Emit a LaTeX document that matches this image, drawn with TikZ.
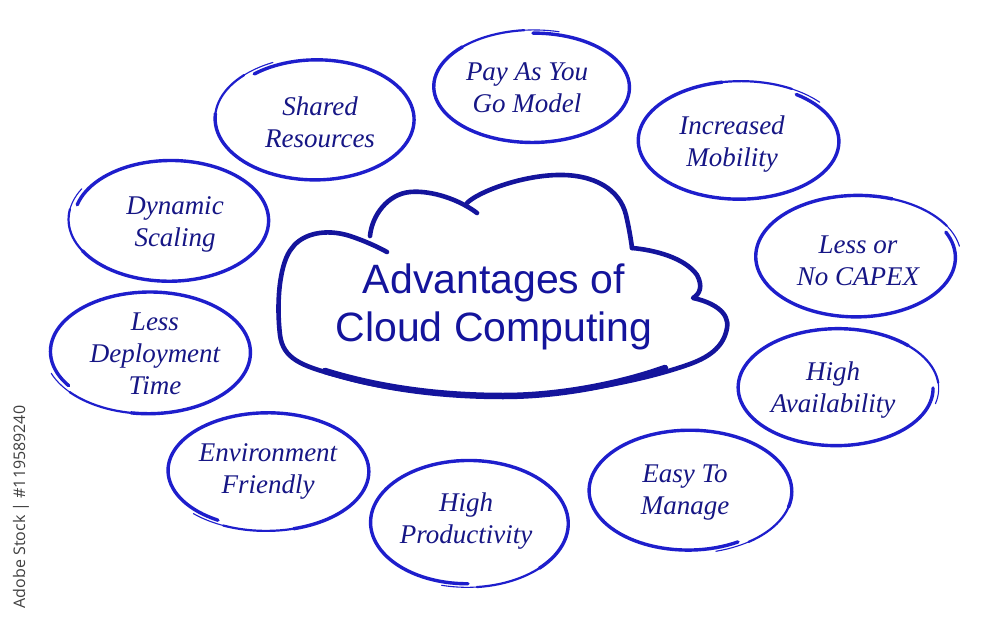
\documentclass[tikz,border=0pt]{standalone}
\usepackage{fontspec}
\setmainfont{Liberation Serif}
\newfontfamily\cloudfont{Liberation Sans}
\newfontfamily\wmfont{Open Sans}
\definecolor{ellblue}{HTML}{1E1ECC}
\definecolor{txtblue}{HTML}{161685}
\definecolor{cloudblue}{HTML}{14149C}
\tikzset{
  ellstroke/.style={draw=ellblue, line cap=round, line join=round},
  lbl/.style={text=txtblue, font=\itshape\fontsize{27}{32}\selectfont, align=center, inner sep=0pt},
  cloudline/.style={draw=cloudblue, line cap=round, line join=round, line width=4.6pt},
}
% #1 cx, #2 cy, #3 rx, #4 ry, #5 start angle
\newcommand{\handell}[5]{%
  \draw[ellstroke, line width=1.1pt] plot[domain=#5:#5+22, samples=8]
    ({#1+#3*(1.04-0.06*(\x-#5)/375)*cos(\x)}, {#2-#4*(1.04-0.06*(\x-#5)/375)*sin(\x)});
  \draw[ellstroke, line width=2.2pt] plot[domain=#5+20:#5+62, samples=14]
    ({#1+#3*(1.04-0.06*(\x-#5)/375)*cos(\x)}, {#2-#4*(1.04-0.06*(\x-#5)/375)*sin(\x)});
  \draw[ellstroke, line width=3.4pt] plot[domain=#5+60:#5+375, samples=90]
    ({#1+#3*(1.04-0.06*(\x-#5)/375)*cos(\x)}, {#2-#4*(1.04-0.06*(\x-#5)/375)*sin(\x)});
}
\begin{document}
\begin{tikzpicture}[x=1pt, y=-1pt]
\useasboundingbox (0,0) rectangle (1000,631);
\fill[white] (0,0) rectangle (1000,631);

% cloud
\draw[cloudline] (632,248) .. controls (655,250) and (685,258) .. (697,275)
  .. controls (703,286) and (700,294) .. (693,298)
  .. controls (712,302) and (730,312) .. (727,328)
  .. controls (724,345) and (712,356) .. (690,364)
  .. controls (640,382) and (560,396) .. (503,396)
  .. controls (440,396) and (380,388) .. (340,376)
  .. controls (300,366) and (283,358) .. (280,335)
  .. controls (276,300) and (280,262) .. (292,248)
  .. controls (302,234) and (325,228) .. (350,236)
  .. controls (365,241) and (378,247) .. (387,252);
\draw[cloudline, line width=6.5pt] (665,368) .. controls (620,384) and (560,396) .. (503,396)
  .. controls (440,396) and (380,388) .. (325,371);
\draw[cloudline] (370,236) .. controls (372,215) and (388,194) .. (410,192)
  .. controls (432,190) and (460,200) .. (477,213);
\draw[cloudline] (467,203) .. controls (478,192) and (520,176) .. (557,175)
  .. controls (595,174) and (620,190) .. (626,215)
  .. controls (629,228) and (631,240) .. (632,248);
\node[font=\cloudfont\fontsize{41}{48}\selectfont, text=cloudblue, align=center] (title) at (494,307) {Advantages of\\Cloud Computing};

% ellipses
\handell{533}{87}{97}{55}{75}
\node[lbl] (pay) at (527,88) {Pay As You\\Go Model};
\handell{316}{119}{98}{60}{115}
\node[lbl] (shared) at (320,122) {Shared\\Resources};
\handell{740}{141}{100}{58}{40}
\node[lbl] (mob) at (732,144) {Increased\\Mobility};
\handell{170}{220}{98}{60}{150}
\node[lbl] (dyn) at (175,224) {Dynamic\\Scaling};
\handell{857}{257}{100}{60}{10}
\node[lbl] (capex) at (858,261) {Less or\\No CAPEX};
\handell{149}{352}{100}{60}{200}
\node[lbl] (deploy) at (155,354) {Less\\Deployment\\Time};
\handell{837}{388}{98}{58}{-15}
\node[lbl] (avail) at (833,390) {High\\Availability};
\handell{267}{471}{100}{58}{225}
\node[lbl] (env) at (268,471) {Environment\\Friendly};
\handell{468}{523}{98}{62}{255}
\node[lbl] (prod) at (466,521) {High\\Productivity};
\handell{689}{491}{100}{60}{285}
\node[lbl] (easy) at (685,493) {Easy To\\Manage};

% watermark text
\node[rotate=90, text=black!75, font=\wmfont\fontsize{16}{16}\selectfont, inner sep=0pt] (wm) at (21,507) {Adobe Stock | \#119589240};
\end{tikzpicture}
\end{document}
